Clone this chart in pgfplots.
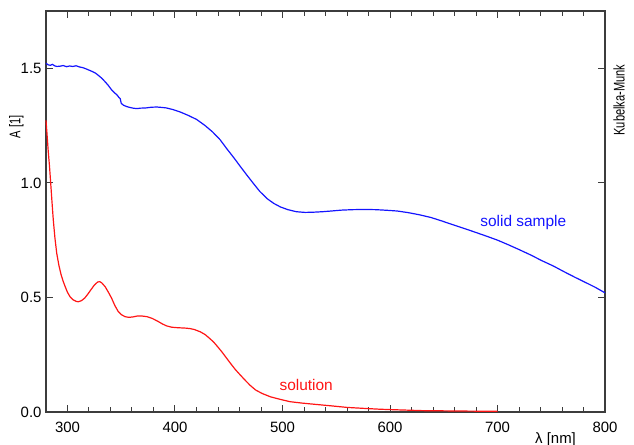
\documentclass[border=0pt]{standalone}
\usepackage{pgfplots}
\pgfplotsset{compat=1.18}
\usepackage{fontspec}
\setmainfont{Liberation Sans}
\definecolor{cblue}{RGB}{20,20,255}
\definecolor{cred}{RGB}{255,20,20}
\definecolor{axgray}{RGB}{60,60,60}
\begin{document}
\begin{tikzpicture}
\begin{axis}[
  scale only axis,
  width=559bp, height=401bp,
  xmin=280, xmax=800, ymin=0, ymax=1.75,
  xtick={300,400,...,800},
  minor x tick num=4,
  ytick={0,0.5,1,1.5},
  tick align=inside,
  major tick length=7bp,
  minor tick length=5bp,
  axis line style={axgray, line width=1.2bp},
  every tick/.style={axgray, line width=1bp},
  tick label style={font=\fontsize{15}{18}\selectfont, text=black},
  /pgf/number format/assume math mode=true,
  yticklabel style={/pgf/number format/fixed, /pgf/number format/fixed zerofill, /pgf/number format/precision=1, xshift=-1bp},
  xticklabel style={/pgf/number format/fixed, /pgf/number format/precision=0, /pgf/number format/1000 sep={}, yshift=-7bp},
  clip=false,
]
\addplot[cblue, line width=1.2bp] coordinates {
(280,1.522) (282,1.515) (284,1.513) (286,1.517) (288,1.511) (290,1.508)
(293,1.509) (296,1.512) (299,1.507) (302,1.510) (305,1.508) (308,1.511)
(311,1.506) (314,1.503) (317,1.498) (320,1.492) (323,1.486) (326,1.479)
(329,1.468) (332,1.456) (335,1.441) (338,1.425) (341,1.406) (344,1.392)
(346,1.384) (348,1.372) (349,1.368) (350,1.347) (352,1.339) (355,1.333)
(358,1.329) (361,1.326) (364.5,1.324) (368,1.326) (373,1.327) (378,1.330)
(383,1.331) (388,1.329) (392,1.327) (398,1.320) (405,1.309) (412,1.295)
(420,1.277) (428,1.250) (435,1.222) (442,1.188) (448,1.150) (455,1.108)
(461,1.070) (467,1.033) (473,0.997) (479,0.962) (486,0.930) (492,0.910)
(498,0.895) (505,0.883) (513,0.874) (521,0.871) (529,0.872) (537,0.874)
(545,0.877) (555,0.881) (565,0.883) (576,0.884) (587,0.883) (598,0.880)
(607,0.877) (617,0.870) (627,0.861) (638,0.849) (648,0.834) (658,0.818)
(669,0.801) (679,0.785) (690,0.767) (700,0.750) (710,0.730) (720,0.709)
(731,0.685) (741,0.661) (752,0.637) (762,0.612) (772,0.588) (782,0.565)
(791,0.544) (800,0.520)
};
\addplot[cred, line width=1.2bp] coordinates {
(280,1.273) (281,1.21) (282,1.143) (283.3,1.07) (284.4,0.997) (285.6,0.915)
(286.8,0.837) (288.3,0.76) (290,0.692) (292,0.64) (294,0.60) (296,0.570)
(298,0.545) (300,0.522) (302.4,0.503) (305,0.490) (308,0.483) (310,0.481)
(313,0.486) (316,0.497) (319,0.515) (322,0.535) (325,0.554) (328,0.567)
(330,0.569) (332,0.563) (335,0.547) (338,0.523) (341,0.497) (344,0.465)
(347,0.440) (350,0.425) (353.6,0.416) (357,0.413) (361,0.415) (365,0.419)
(369,0.419) (374,0.416) (379,0.408) (384,0.396) (388,0.385) (392,0.376)
(397,0.370) (402,0.368) (406,0.367) (410,0.366) (414,0.364) (418,0.360)
(423.5,0.350) (428,0.338) (432,0.322) (436,0.305) (440,0.283) (444,0.260)
(448,0.235) (452,0.210) (456,0.186) (461,0.160) (466,0.135) (470,0.116)
(475,0.096) (481,0.081) (489,0.066) (498,0.055) (507,0.045) (518,0.039)
(529,0.034) (545,0.027) (560,0.020) (575,0.016) (591,0.012) (610,0.009)
(630,0.006) (650,0.005) (670,0.004) (700,0.003)
};
\node[text=cblue, font=\fontsize{15.5}{18}\selectfont] at (axis cs:724,0.825) {solid sample};
\node[text=cred, font=\fontsize{15.5}{18}\selectfont] at (axis cs:522,0.118) {solution};
\node[rotate=90, xscale=0.72, font=\fontsize{15.5}{18}\selectfont] at ([xshift=-29.5bp]rel axis cs:0,0.711) {A [1]};
\node[rotate=90, xscale=0.72, font=\fontsize{15.5}{18}\selectfont] at ([xshift=14bp]rel axis cs:1,0.778) {Kubelka-Munk};
\node[anchor=north, font=\fontsize{15}{18}\selectfont, inner sep=0pt] at ([yshift=-20bp]axis cs:754,0) {λ [nm]};
\end{axis}
\pgfresetboundingbox
\path ([shift={(-46bp,-33bp)}]current axis.south west) rectangle ([shift={(29bp,11bp)}]current axis.north east);
\end{tikzpicture}
\end{document}
